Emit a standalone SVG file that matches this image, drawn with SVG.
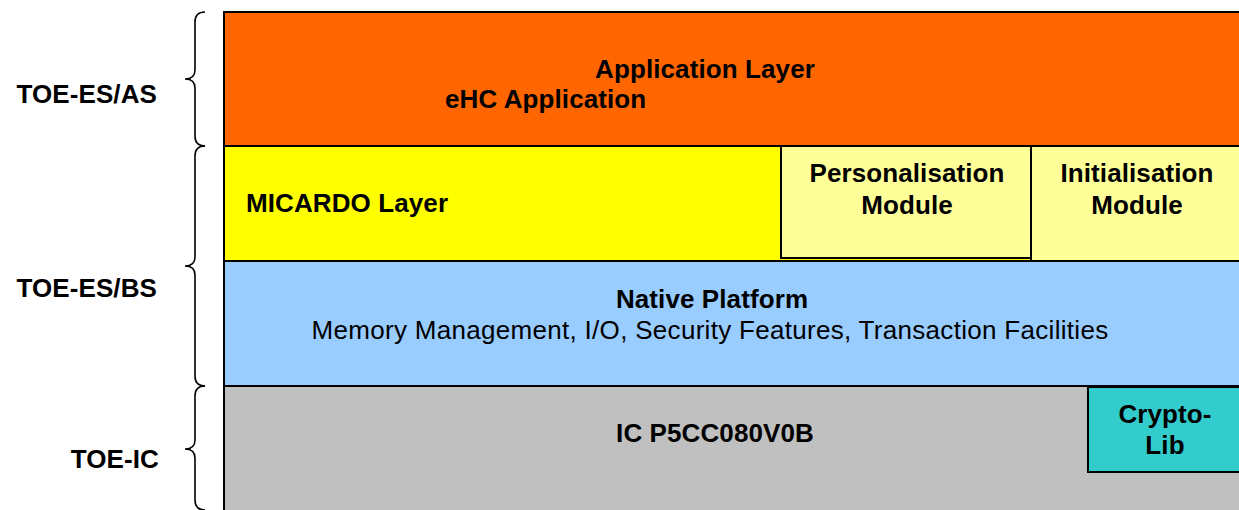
<svg xmlns="http://www.w3.org/2000/svg" width="1239" height="510" viewBox="0 0 1239 510">
<style>
.b{font-family:"Liberation Sans",Arial,sans-serif;font-weight:bold;font-size:26px;letter-spacing:0.1px;fill:#000}
.r{font-family:"Liberation Sans",Arial,sans-serif;font-size:26px;letter-spacing:0.3px;fill:#000}
.box{stroke:#000;stroke-width:2}
.brace{fill:none;stroke:#000;stroke-width:1.6}
</style>
<rect width="1239" height="510" fill="#fff"/>
<g id="app-layer">
<rect class="box" x="224" y="12" width="1030" height="134" fill="#FF6600"/>
<text class="b" x="705" y="78" text-anchor="middle">Application Layer</text>
<text class="b" x="445" y="108">eHC Application</text>
</g>
<g id="micardo-layer">
<rect class="box" x="224" y="146" width="1030" height="115" fill="#FFFF00"/>
<text class="b" x="246" y="212">MICARDO Layer</text>
</g>
<g id="personalisation">
<rect class="box" x="781" y="146" width="250" height="112" fill="#FFFF99"/>
<text class="b" x="907" y="182" text-anchor="middle">Personalisation</text>
<text class="b" x="907" y="214" text-anchor="middle">Module</text>
</g>
<g id="initialisation">
<rect class="box" x="1031" y="146" width="223" height="115" fill="#FFFF99"/>
<text class="b" x="1137" y="182" text-anchor="middle">Initialisation</text>
<text class="b" x="1137" y="214" text-anchor="middle">Module</text>
</g>
<g id="native-platform">
<rect class="box" x="224" y="261" width="1030" height="125" fill="#99CCFF"/>
<text class="b" x="712" y="308" text-anchor="middle">Native Platform</text>
<text class="r" x="710" y="339" text-anchor="middle">Memory Management, I/O, Security Features, Transaction Facilities</text>
</g>
<g id="ic">
<rect class="box" x="224" y="386" width="1030" height="140" fill="#C0C0C0"/>
<text class="b" x="715" y="442" text-anchor="middle">IC P5CC080V0B</text>
</g>
<g id="crypto-lib">
<rect class="box" x="1088" y="387" width="166" height="85" fill="#33CCCC"/>
<text class="b" x="1165" y="423" text-anchor="middle">Crypto-</text>
<text class="b" x="1165" y="454" text-anchor="middle">Lib</text>
</g>
<g id="toe-es-as">
<path class="brace" d="M205,12 Q195,12 195,22 L195,70 Q195,79 185,79 Q195,79 195,88 L195,136 Q195,146 205,146"/>
<text class="b" x="157" y="103" text-anchor="end">TOE-ES/AS</text>
</g>
<g id="toe-es-bs">
<path class="brace" d="M205,146 Q195,146 195,156 L195,257 Q195,266 185,266 Q195,266 195,275 L195,376 Q195,386 205,386"/>
<text class="b" x="157" y="297" text-anchor="end">TOE-ES/BS</text>
</g>
<g id="toe-ic">
<path class="brace" d="M205,386 Q195,386 195,396 L195,440 Q195,449 185,449 Q195,449 195,458 L195,500 Q195,510 205,510"/>
<text class="b" x="159" y="468" text-anchor="end">TOE-IC</text>
</g>
<g id="connectors"></g>
</svg>
